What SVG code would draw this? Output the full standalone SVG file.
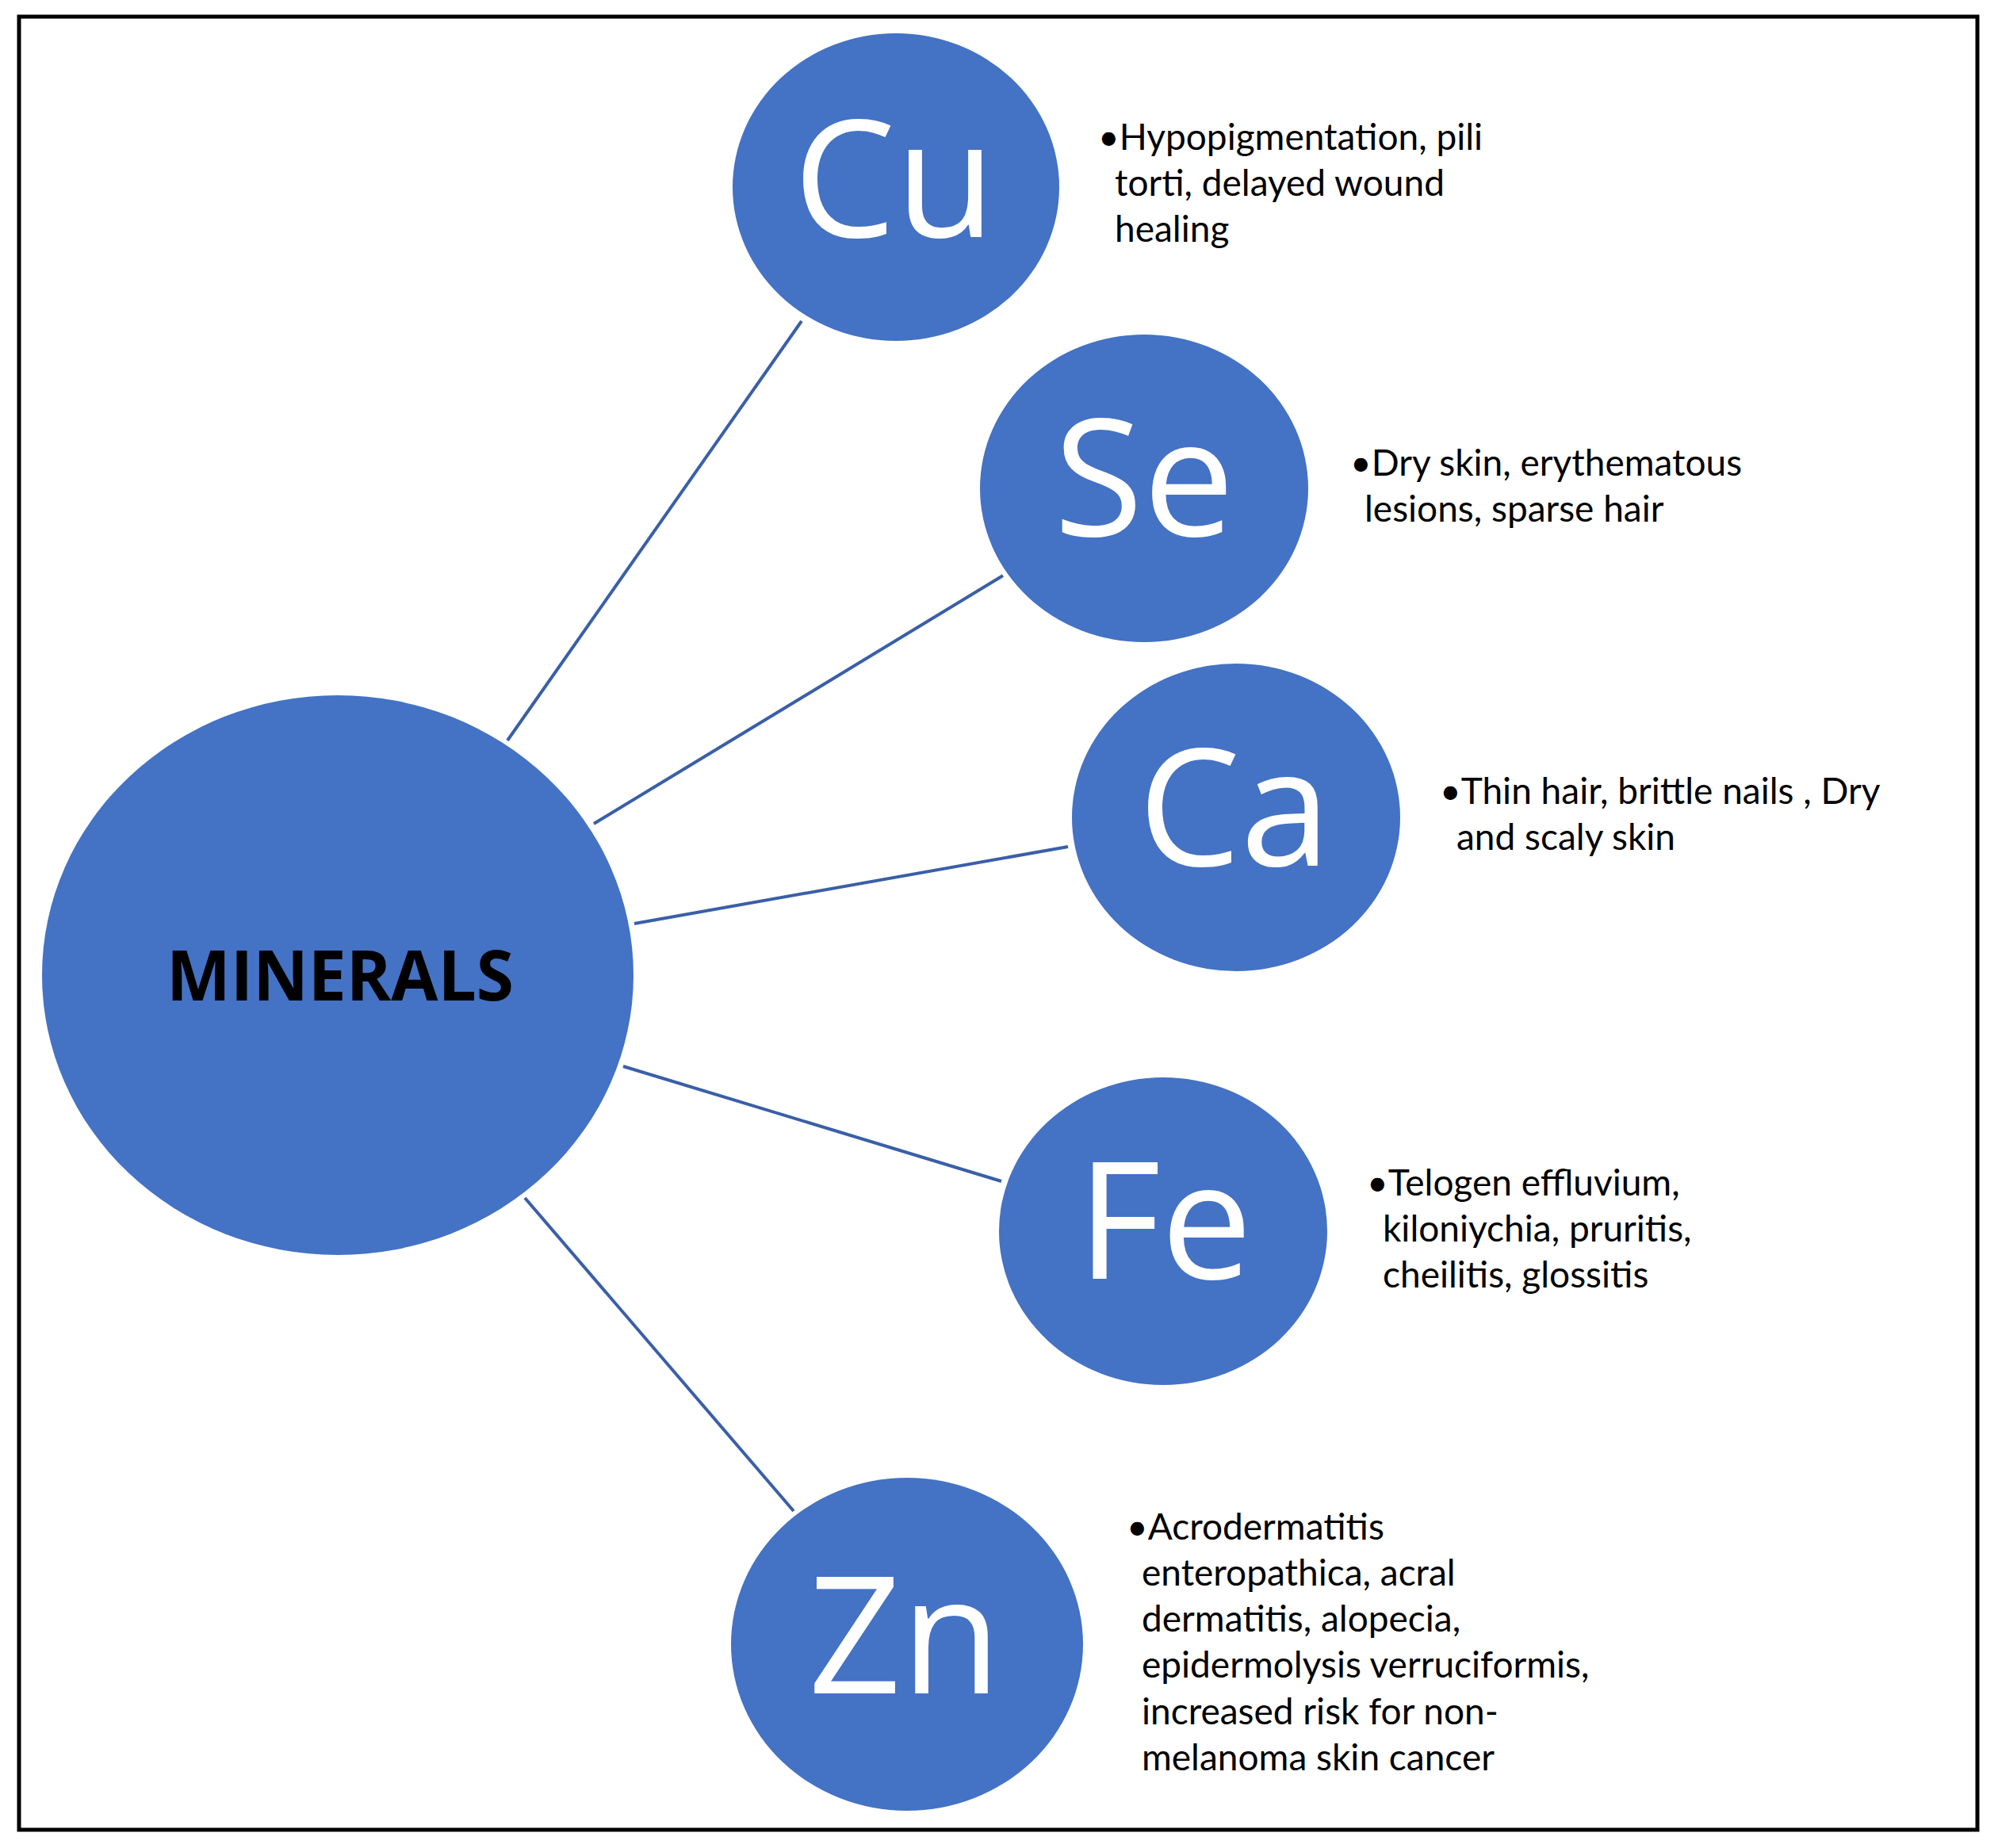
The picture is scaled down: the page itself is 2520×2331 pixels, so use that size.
<svg xmlns="http://www.w3.org/2000/svg" width="2520" height="2331" viewBox="0 0 2520 2331">
<style>
.n{fill:#4472c4}
.sym{font-family:"Open Sans","Liberation Sans",sans-serif;font-size:205px;fill:#fff;text-anchor:middle}
.t{font-family:Lato,"Open Sans",sans-serif;font-size:46px;fill:#000}
.c line{stroke:#3a5fa8;stroke-width:4}
</style>
<rect x="0" y="0" width="2520" height="2331" fill="#fff"/>
<rect x="24" y="21" width="2470" height="2287" fill="none" stroke="#000" stroke-width="5"/>
<g class="c" id="connectors">
<line x1="640" y1="934" x2="1011" y2="405"/>
<line x1="749" y1="1039" x2="1265" y2="726"/>
<line x1="800" y1="1165" x2="1347" y2="1068"/>
<line x1="786" y1="1345" x2="1263" y2="1490"/>
<line x1="662" y1="1511" x2="1001" y2="1906"/>
</g>
<g id="minerals"><ellipse class="n" cx="426" cy="1230" rx="373" ry="353"/>
<text x="429" y="1262" font-family="Open Sans,Liberation Sans,sans-serif" font-weight="bold" font-size="88" text-anchor="middle" textLength="438" lengthAdjust="spacingAndGlyphs">MINERALS</text></g>
<g id="cu"><ellipse class="n" cx="1130" cy="236" rx="206" ry="194"/><text class="sym" x="1128" y="299">Cu</text>
<text class="t"><tspan x="1385" y="189">•Hypopigmentation, pili</tspan><tspan x="1406" y="247">torti, delayed wound</tspan><tspan x="1406" y="305">healing</tspan></text></g>
<g id="se"><ellipse class="n" cx="1443" cy="616" rx="207" ry="194"/><text class="sym" x="1443" y="676">Se</text>
<text class="t"><tspan x="1703" y="600">•Dry skin, erythematous</tspan><tspan x="1721" y="658">lesions, sparse hair</tspan></text></g>
<g id="ca"><ellipse class="n" cx="1559" cy="1031" rx="207" ry="194"/><text class="sym" x="1557" y="1092">Ca</text>
<text class="t"><tspan x="1816" y="1014">•Thin hair, brittle nails , Dry</tspan><tspan x="1837" y="1072">and scaly skin</tspan></text></g>
<g id="fe"><ellipse class="n" cx="1467" cy="1553" rx="207" ry="194"/><text class="sym" x="1469" y="1613">Fe</text>
<text class="t"><tspan x="1724" y="1508">•Telogen effluvium,</tspan><tspan x="1744" y="1566">kiloniychia, pruritis,</tspan><tspan x="1744" y="1624">cheilitis, glossitis</tspan></text></g>
<g id="zn"><ellipse class="n" cx="1144" cy="2074" rx="222" ry="210"/><text class="sym" x="1141" y="2136">Zn</text>
<text class="t"><tspan x="1421" y="1942">•Acrodermatitis</tspan><tspan x="1440" y="2000">enteropathica, acral</tspan><tspan x="1440" y="2058">dermatitis, alopecia,</tspan><tspan x="1440" y="2116">epidermolysis verruciformis,</tspan><tspan x="1440" y="2175">increased risk for non-</tspan><tspan x="1440" y="2233">melanoma skin cancer</tspan></text></g>
</svg>
